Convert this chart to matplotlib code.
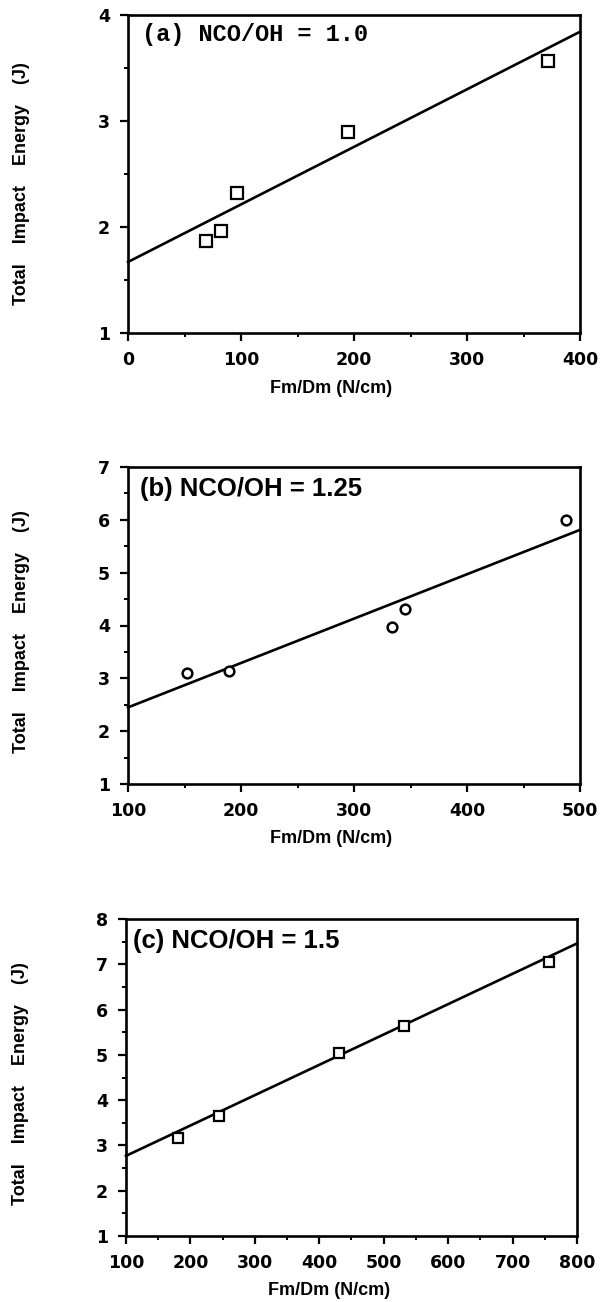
import numpy as np
import matplotlib.pyplot as plt
from matplotlib.ticker import MultipleLocator

# panel (a) NCO/OH = 1.0
a_x = [69, 82, 96.5, 195, 371.5]
a_y = [1.87, 1.965, 2.32, 2.90, 3.57]
a_fit = [1.67, 0.00543]  # intercept, slope

# panel (b) NCO/OH = 1.25
b_x = [152, 189, 333.5, 345, 487.5]
b_y = [3.11, 3.13, 3.98, 4.32, 6.0]
b_fit = [1.61, 0.0084]

# panel (c) NCO/OH = 1.5
c_x = [180, 244, 431, 531, 757]
c_y = [3.16, 3.66, 5.05, 5.63, 7.06]
c_fit = [2.10, 0.0067]

xlabel = 'Fm/Dm (N/cm)'
ylabel = 'Total    Impact    Energy    (J)'

W, H = 600, 1302


def make_axes(fig, left, right, top, bottom):
    """axes from pixel box of the reference"""
    return fig.add_axes([left / W, (H - bottom) / H, (right - left) / W, (bottom - top) / H])


def style(ax, xlim, ylim, xmajor, ylabel_y):
    ax.set_xlim(*xlim)
    ax.set_ylim(*ylim)
    ax.xaxis.set_major_locator(MultipleLocator(xmajor))
    ax.xaxis.set_minor_locator(MultipleLocator(xmajor / 2))
    ax.yaxis.set_major_locator(MultipleLocator(1))
    ax.yaxis.set_minor_locator(MultipleLocator(0.5))
    for s in ax.spines.values():
        s.set_linewidth(1.9)
    ax.tick_params(which='major', direction='out', length=6, width=1.6, pad=7,
                   labelsize=12.5)
    ax.tick_params(which='minor', direction='out', length=3, width=1.4)
    for lab in ax.get_xticklabels() + ax.get_yticklabels():
        lab.set_fontweight('bold')
        lab.set_family('DejaVu Sans')
    ax.set_xlabel(xlabel, fontsize=13, fontweight='bold', family='Liberation Sans')
    ax.xaxis.set_label_coords(0.45, -0.173)
    ax.xaxis.label.set_va('center')
    ax.set_ylabel(ylabel, fontsize=13, fontweight='bold', family='Liberation Sans')
    ax.yaxis.set_label_coords(-0.235, ylabel_y)
    ax.yaxis.label.set_va('center')


def fit_line(ax, fit, xlim):
    xs = np.array(xlim)
    ax.plot(xs, fit[0] + fit[1] * xs, color='black', lw=1.9, clip_on=False, zorder=2)


fig = plt.figure(figsize=(W / 100, H / 100), dpi=100)

# (a)
ax = make_axes(fig, 128, 580, 15, 333)
fit_line(ax, a_fit, (0, 400))
ax.plot(a_x, a_y, 's', ms=8, mfc='white', mec='black', mew=1.6, zorder=3)
style(ax, (0, 400), (1, 4), 100, 0.47)
ax.text(0.031, 0.94, '(a) NCO/OH = 1.0', transform=ax.transAxes, fontsize=17,
        fontweight='bold', family='Liberation Mono', va='center', ha='left')

# (b)
ax = make_axes(fig, 128, 580, 467, 784)
fit_line(ax, b_fit, (100, 500))
ax.plot(b_x, b_y, 'o', ms=7, mfc='white', mec='black', mew=1.8, zorder=3)
style(ax, (100, 500), (1, 7), 100, 0.48)
ax.text(0.027, 0.93, '(b) NCO/OH = 1.25', transform=ax.transAxes, fontsize=18.5,
        fontweight='bold', family='Liberation Sans', va='center', ha='left')

# (c)
ax = make_axes(fig, 126, 577, 919, 1236)
fit_line(ax, c_fit, (100, 800))
ax.plot(c_x, c_y, 's', ms=7.5, mfc='white', mec='black', mew=1.6, zorder=3)
style(ax, (100, 800), (1, 8), 100, 0.48)
ax.text(0.015, 0.93, '(c) NCO/OH = 1.5', transform=ax.transAxes, fontsize=18.5,
        fontweight='bold', family='Liberation Sans', va='center', ha='left')

fig.savefig('out.png', dpi=100)
